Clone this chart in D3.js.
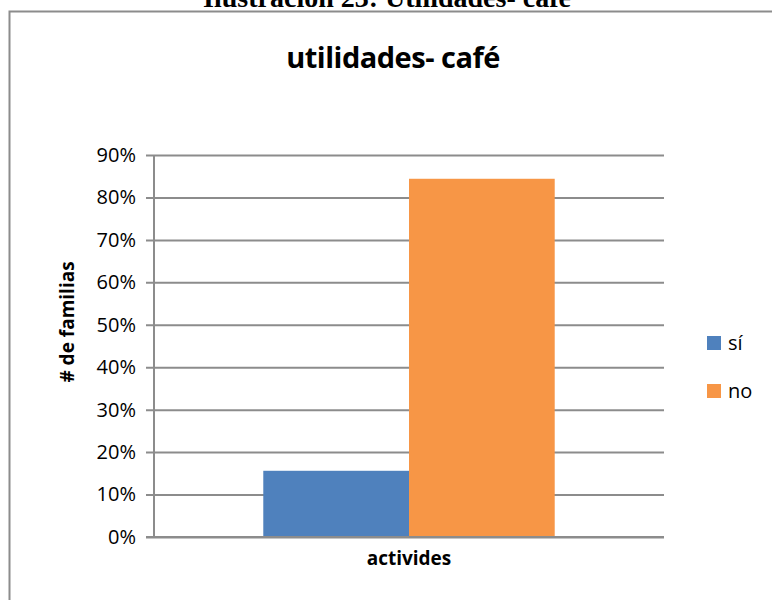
<!DOCTYPE html>
<html>
<head>
<meta charset="utf-8">
<script src="https://cdn.jsdelivr.net/npm/d3@7"></script>
<style>
  body { margin: 0; background: #fff; }
  svg { display: block; }
</style>
</head>
<body>
<div id="chart"></div>
<script>
'use strict';

// chart values
const categories = ["activides"];
const seriesNames = ["sí", "no"];
const seriesValues = [0.156, 0.844];
const seriesColors = ["#4F81BD", "#F79646"];
const yTicks = [0, 0.1, 0.2, 0.3, 0.4, 0.5, 0.6, 0.7, 0.8, 0.9];

const width = 772, height = 600;
const plot = { left: 154, right: 664, top: 155, bottom: 537 };

const svg = d3.select("#chart")
    .append("svg")
    .attr("width", width)
    .attr("height", height);

// caption, cut off at the top of the page as in the source
svg.append("text")
    .attr("x", 387)
    .attr("y", 7)
    .attr("text-anchor", "middle")
    .style("font-family", "'Liberation Serif', 'Times New Roman', serif")
    .style("font-weight", "bold")
    .style("font-size", "28px")
    .text("Ilustración 23: Utilidades- café");

// chart frame
svg.append("rect")
    .attr("x", 9.5)
    .attr("y", 11.5)
    .attr("width", 800)
    .attr("height", 640)
    .attr("fill", "none")
    .attr("stroke", "#8c8c8c")
    .attr("stroke-width", 2);

const x = d3.scaleBand()
    .domain(categories)
    .range([plot.left, plot.right]);

const xInner = d3.scaleBand()
    .domain(seriesNames)
    .range([0, x.bandwidth()])
    .paddingInner(0)
    .paddingOuter(0.75);

const y = d3.scaleLinear()
    .domain([0, 0.9])
    .range([plot.bottom, plot.top]);

// gridlines + ticks
const yAxis = svg.append("g")
    .attr("transform", "translate(" + plot.left + ",0)")
    .call(d3.axisLeft(y)
        .tickValues(yTicks)
        .tickSize(-(plot.right - plot.left))
        .tickPadding(18)
        .tickFormat(d3.format(".0%")));

yAxis.select(".domain").remove();
yAxis.selectAll(".tick line")
    .attr("x1", -8)
    .attr("stroke", "#8c8c8c")
    .attr("stroke-width", 2);
yAxis.selectAll(".tick text")
    .style("font-family", "'Open Sans', 'Noto Sans', sans-serif")
    .style("font-size", "20px")
    .attr("fill", "#000");

// vertical axis line
svg.append("line")
    .attr("x1", plot.left).attr("x2", plot.left)
    .attr("y1", plot.top).attr("y2", plot.bottom)
    .attr("stroke", "#8c8c8c")
    .attr("stroke-width", 2);

// bars
svg.append("g")
    .selectAll("rect")
    .data(seriesNames.map((s, i) => ({ name: s, value: seriesValues[i], color: seriesColors[i] })))
    .enter()
    .append("rect")
    .attr("x", d => x(categories[0]) + xInner(d.name))
    .attr("y", d => y(d.value))
    .attr("width", xInner.bandwidth())
    .attr("height", d => y(0) - y(d.value))
    .attr("fill", d => d.color);

// baseline drawn over the bars
svg.append("line")
    .attr("x1", plot.left - 8).attr("x2", plot.right)
    .attr("y1", y(0)).attr("y2", y(0))
    .attr("stroke", "#8c8c8c")
    .attr("stroke-width", 2);

// title
svg.append("text")
    .attr("x", 393)
    .attr("y", 68)
    .attr("text-anchor", "middle")
    .style("font-family", "'Open Sans', 'Noto Sans', sans-serif")
    .style("font-weight", "bold")
    .style("font-size", "29px")
    .style("letter-spacing", "-0.5px")
    .text("utilidades- café");

// x axis title
svg.append("text")
    .attr("x", x(categories[0]) + x.bandwidth() / 2)
    .attr("y", 565)
    .attr("text-anchor", "middle")
    .style("font-family", "'Open Sans', 'Noto Sans', sans-serif")
    .style("font-weight", "bold")
    .style("font-size", "19px")
    .text(categories[0]);

// y axis title
svg.append("text")
    .attr("transform", "translate(74,322) rotate(-90)")
    .attr("text-anchor", "middle")
    .style("font-family", "'Open Sans', 'Noto Sans', sans-serif")
    .style("font-weight", "bold")
    .style("font-size", "19px")
    .text("# de familias");

// legend
const legend = svg.append("g")
    .selectAll("g")
    .data(seriesNames)
    .enter()
    .append("g")
    .attr("transform", (d, i) => "translate(707," + (336 + i * 48) + ")");

legend.append("rect")
    .attr("width", 14)
    .attr("height", 14)
    .attr("fill", (d, i) => seriesColors[i]);

legend.append("text")
    .attr("x", 21)
    .attr("y", 14)
    .style("font-family", "'Open Sans', 'Noto Sans', sans-serif")
    .style("font-size", "20px")
    .text(d => d);
</script>
</body>
</html>
